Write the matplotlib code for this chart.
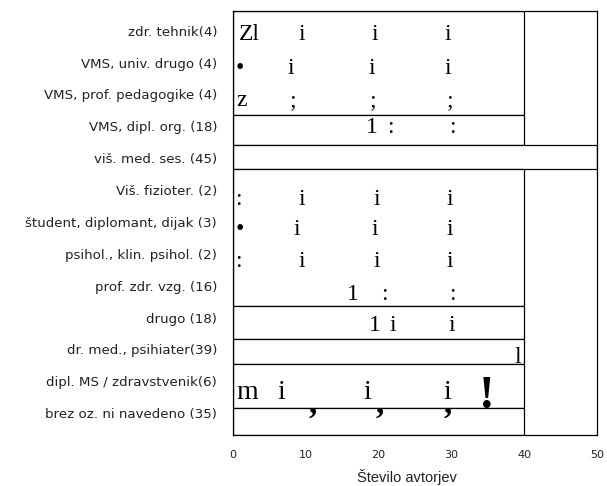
import matplotlib
matplotlib.use("Agg")
import matplotlib.pyplot as plt

# ---- data ----
categories = [
    "zdr. tehnik(4)",
    "VMS, univ. drugo (4)",
    "VMS, prof. pedagogike (4)",
    "VMS, dipl. org. (18)",
    "viš. med. ses. (45)",
    "Viš. fizioter. (2)",
    "študent, diplomant, dijak (3)",
    "psihol., klin. psihol. (2)",
    "prof. zdr. vzg. (16)",
    "drugo (18)",
    "dr. med., psihiater(39)",
    "dipl. MS / zdravstvenik(6)",
    "brez oz. ni navedeno (35)",
]
box_values = [40, 40, 50, 40, 40, 40, 40, 40]
box_top = [-0.618, 2.654, 3.595, 4.348, 8.626, 9.680, 10.464, 11.844]
box_bottom = [2.654, 3.595, 4.348, 8.626, 9.680, 10.464, 11.844, 12.682]

xticks = [0, 10, 20, 30, 40, 50]
xlabel = "Število avtorjev"

# glyph rows drawn inside the boxes: (texts, x values, baseline row)
glyph_rows = [
    (["Zl", "i", "i", "i"], [2.2, 9.5, 19.5, 29.5], 0.29),
    (["•", "i", "i", "i"], [1.0, 7.97, 19.1, 29.5], 1.36),
    (["z", ";", ";", ";"], [1.24, 8.24, 19.2, 29.8], 2.36),
    (["1", ":", ":"], [19.1, 21.6, 30.2], 3.21),
    ([":", "i", "i", "i"], [0.69, 9.5, 19.8, 29.8], 5.47),
    (["•", "i", "i", "i"], [1.0, 8.8, 19.5, 29.8], 6.41),
    ([":", "i", "i", "i"], [0.69, 9.5, 19.8, 29.8], 7.41),
    (["1", ":", ":"], [16.5, 20.8, 30.1], 8.45),
    (["1", "i", "i"], [19.5, 22.0, 30.1], 9.42),
    (["l"], [39.1], 10.43),
    (["m", "i", "i", "i"], [1.9, 6.7, 18.4, 29.4], 11.55),
]
comma_x = [11.0, 20.2, 29.5]
comma_row = 12.0
bang_x = [34.9]
bang_row = 11.82

fig = plt.figure(figsize=(6.07, 4.86), dpi=100)
ax = fig.add_axes([233 / 607, (486 - 435) / 486, 364 / 607, 424 / 486])

centers = [(t + b) / 2 for t, b in zip(box_top, box_bottom)]
heights = [b - t for t, b in zip(box_top, box_bottom)]
ax.barh(centers, box_values, height=heights, left=0, color="white",
        edgecolor="black", linewidth=0.9, zorder=2)

serif = "Liberation Serif"
for texts, xs, row in glyph_rows:
    size = 20 if texts[0] == "m" else 17
    for t, x in zip(texts, xs):
        ax.text(x, row, t, ha="center", va="baseline", family=serif,
                fontsize=size, color="black", zorder=3)
for x in comma_x:
    ax.text(x, comma_row, ",", ha="center", va="baseline", family=serif,
            fontsize=24, fontweight="bold", color="black", zorder=3)
for x in bang_x:
    ax.text(x, bang_row, "!", ha="center", va="baseline", family=serif,
            fontsize=34, fontweight="bold", color="black", zorder=3)

ax.set_xlim(0, 50)
ax.set_ylim(12.682, -0.618)
ax.set_yticks(range(len(categories)))
ax.set_yticklabels(categories, family="DejaVu Sans", fontsize=9.6, color="#222222")
ax.set_xticks(xticks)
ax.set_xticklabels([str(v) for v in xticks], family="DejaVu Sans", fontsize=8,
                   color="#222222")
ax.tick_params(axis="y", length=0, pad=11.5)
ax.tick_params(axis="x", length=0, pad=11)
for s in ax.spines.values():
    s.set_linewidth(0.9)
    s.set_color("black")

ax.set_xlabel(xlabel, family="Liberation Sans", fontsize=10.5, color="#222222")
ax.xaxis.set_label_coords(0.478, -0.111)
ax.xaxis.label.set_va("baseline")

fig.savefig("out.png", dpi=100)
